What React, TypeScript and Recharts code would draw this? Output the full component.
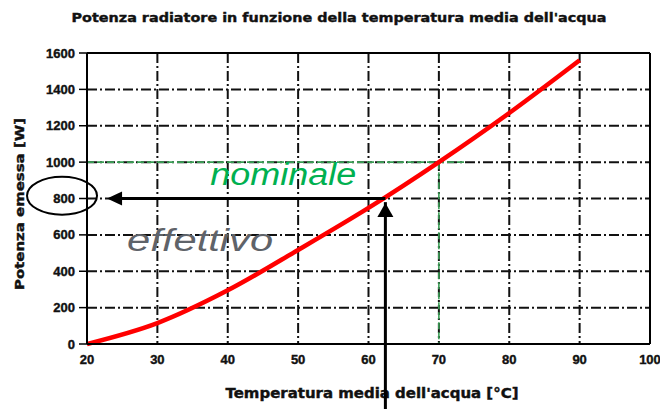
import React from 'react';
import { LineChart, Line, XAxis, YAxis, CartesianGrid, ReferenceLine, ReferenceDot } from 'recharts';

const temps = [20, 30, 40, 50, 60, 70, 80, 90];
const power = [0, 115, 295, 517, 748, 1000, 1270, 1560];
const xTicks = [20, 30, 40, 50, 60, 70, 80, 90, 100];
const yTicks = [0, 200, 400, 600, 800, 1000, 1200, 1400, 1600];
const title = "Potenza radiatore in funzione della temperatura media dell'acqua";
const xTitle = "Temperatura media dell'acqua [°C]";
const yTitle = 'Potenza emessa [W]';
const nominalT = 70;
const nominalP = 1000;
const effT = 62.4;
const effP = 800;

const data = temps.map((t, i) => ({ t, p: power[i] }));

const tickStyle = { fontFamily: 'Liberation Sans, Arial, sans-serif', fontWeight: 700, fontSize: 13, fill: '#111', stroke: '#111', strokeWidth: 0.4 };

const UpArrow = (props: any) => {
  const { cx, cy } = props;
  return <path d={`M${cx},${cy} L${cx - 8},${cy + 14} L${cx + 8},${cy + 14} Z`} fill="#000" />;
};
const LeftArrow = (props: any) => {
  const { cx, cy } = props;
  return <path d={`M${cx},${cy} L${cx + 15},${cy - 7} L${cx + 15},${cy + 7} Z`} fill="#000" />;
};
const Ellipse = (props: any) => {
  const { cx, cy } = props;
  return <ellipse cx={cx} cy={cy} rx={35} ry={19} fill="none" stroke="#000" strokeWidth={2} />;
};
const NomText = (props: any) => {
  const { cx, cy } = props;
  return (
    <text x={cx} y={cy} fill="#00b050" fontFamily="Liberation Sans, Arial, sans-serif" fontStyle="italic" fontSize={31} textLength={146} lengthAdjust="spacingAndGlyphs">
      nominale
    </text>
  );
};
const EffText = (props: any) => {
  const { cx, cy } = props;
  return (
    <text x={cx} y={cy} fill="#5f6369" fontFamily="Liberation Sans, Arial, sans-serif" fontStyle="italic" fontSize={31} textLength={146} lengthAdjust="spacingAndGlyphs">
      effettivo
    </text>
  );
};

export default function App() {
  return (
    <div style={{ position: 'relative', width: 660, height: 409, background: '#fff' }}>
      <style>{'body{margin:0;background:#fff}'}</style>
      <LineChart width={660} height={409} data={data} margin={{ top: 53, right: 10, bottom: 35, left: 25 }}>
        <CartesianGrid stroke="#111" strokeDasharray="10 3 2 3" strokeWidth={2} />
        <XAxis
          dataKey="t"
          type="number"
          domain={[20, 100]}
          ticks={xTicks}
          allowDataOverflow
          height={30}
          tickSize={0}
          tickMargin={11}
          tick={tickStyle}
          axisLine={{ stroke: '#000', strokeWidth: 2 }}
        />
        <YAxis
          type="number"
          domain={[0, 1600]}
          ticks={yTicks}
          width={62}
          tickSize={8}
          tickMargin={4}
          tick={tickStyle}
          axisLine={{ stroke: '#000', strokeWidth: 2 }}
          tickLine={{ stroke: '#000', strokeWidth: 1.5 }}
        />
        <ReferenceLine y={1600} stroke="#000" strokeWidth={2} />
        <ReferenceLine x={100} stroke="#000" strokeWidth={2} />
        <ReferenceLine segment={[{ x: 20, y: nominalP }, { x: 74, y: nominalP }]} stroke="#3a9e55" strokeWidth={1.6} strokeDasharray="7 3" />
        <ReferenceLine segment={[{ x: nominalT, y: nominalP }, { x: nominalT, y: 0 }]} stroke="#3a9e55" strokeWidth={1.6} strokeDasharray="7 3" />
        <Line dataKey="p" type="monotone" stroke="#ff0000" strokeWidth={4.5} dot={false} isAnimationActive={false} />
        <ReferenceLine segment={[{ x: 23.5, y: effP }, { x: effT, y: effP }]} stroke="#000" strokeWidth={3} ifOverflow="visible" />
        <ReferenceLine segment={[{ x: effT, y: -420 }, { x: effT, y: 780 }]} stroke="#000" strokeWidth={3} ifOverflow="visible" />
        <ReferenceDot x={effT} y={775} r={1} shape={UpArrow} ifOverflow="visible" />
        <ReferenceDot x={22.85} y={effP} r={1} shape={LeftArrow} ifOverflow="visible" />
        <ReferenceDot x={16.45} y={815} r={1} shape={Ellipse} ifOverflow="visible" />
        <ReferenceDot x={37.5} y={875} r={1} shape={NomText} ifOverflow="visible" />
        <ReferenceDot x={25.7} y={513} r={1} shape={EffText} ifOverflow="visible" />
        <text x={339} y={22} textAnchor="middle" fontFamily="DejaVu Sans, sans-serif" fontWeight={700} fontSize={13} fill="#111" stroke="#111" strokeWidth={0.4} textLength={535} lengthAdjust="spacingAndGlyphs">
          {title}
        </text>
        <text x={372} y={398} textAnchor="middle" fontFamily="DejaVu Sans, sans-serif" fontWeight={700} fontSize={13.5} fill="#111" stroke="#111" strokeWidth={0.4} textLength={293} lengthAdjust="spacingAndGlyphs">
          {xTitle}
        </text>
        <text x={19} y={204} transform="rotate(-90 19 204)" textAnchor="middle" dominantBaseline="central" fontFamily="DejaVu Sans, sans-serif" fontWeight={700} fontSize={12.5} fill="#111" stroke="#111" strokeWidth={0.4} textLength={172} lengthAdjust="spacingAndGlyphs">
          {yTitle}
        </text>
      </LineChart>
    </div>
  );
}
